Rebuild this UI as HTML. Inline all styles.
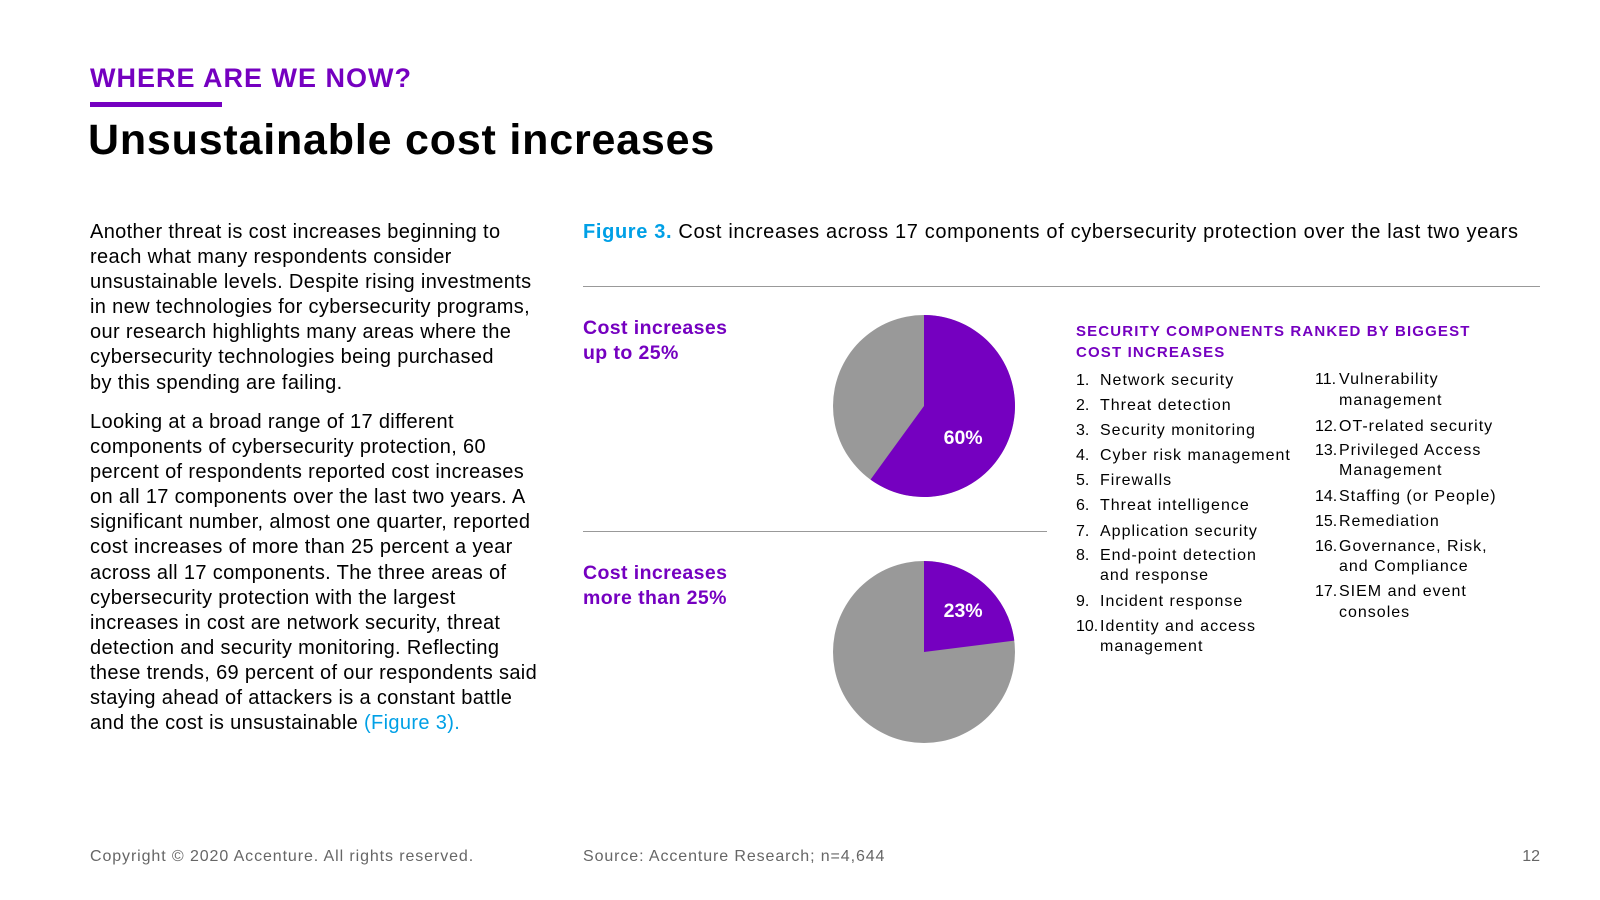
<!DOCTYPE html>
<html><head><meta charset="utf-8">
<style>
body{margin:0;width:1600px;height:900px;background:#fff;font-family:"Liberation Sans",sans-serif;position:relative;overflow:hidden;color:#000}
.abs{position:absolute}
.kicker{left:90px;top:63px;font-size:27px;font-weight:bold;color:#7500c0;letter-spacing:1px;white-space:nowrap}
.bar{left:90px;top:102px;width:132px;height:5px;background:#7500c0}
.title{left:88px;top:116px;font-size:43px;font-weight:bold;letter-spacing:0.8px;white-space:nowrap}
.body{left:90px;font-size:20px;line-height:25.1px;letter-spacing:0.35px;white-space:nowrap}
.fig{left:583px;top:221px;font-size:20px;letter-spacing:0.65px;white-space:nowrap}
.fig b{color:#00a0e6}
.hr{height:1px;background:#999}
.lab{left:583px;font-size:19.5px;font-weight:bold;color:#7500c0;line-height:25px;letter-spacing:0.4px}
.lh{left:1076px;top:322px;font-size:15px;font-weight:bold;color:#7500c0;line-height:20.5px;letter-spacing:1.15px;white-space:nowrap}
.list{font-size:16px;line-height:25.1px;letter-spacing:1px;margin:0;padding:0;list-style:none;white-space:nowrap}
.list li{display:flex;height:25.1px}
.list li span:first-child{width:24px;flex:none;letter-spacing:0}
.list li.two{line-height:20.5px;height:41px;padding:2.3px 0}
.foot{top:848px;font-size:16px;color:#666;letter-spacing:0.9px;white-space:nowrap}
</style></head><body>
<div class="abs kicker">WHERE ARE WE NOW?</div>
<div class="abs bar"></div>
<div class="abs title">Unsustainable cost increases</div>
<div class="abs body" style="top:220px">Another threat is cost increases beginning to<br>reach what many respondents consider<br>unsustainable levels. Despite rising investments<br>in new technologies for cybersecurity programs,<br>our research highlights many areas where the<br>cybersecurity technologies being purchased<br>by this spending are failing.</div>
<div class="abs body" style="top:410px">Looking at a broad range of 17 different<br>components of cybersecurity protection, 60<br>percent of respondents reported cost increases<br>on all 17 components over the last two years. A<br>significant number, almost one quarter, reported<br>cost increases of more than 25 percent a year<br>across all 17 components. The three areas of<br>cybersecurity protection with the largest<br>increases in cost are network security, threat<br>detection and security monitoring. Reflecting<br>these trends, 69 percent of our respondents said<br>staying ahead of attackers is a constant battle<br>and the cost is unsustainable <span style="color:#00a0e6">(Figure 3).</span></div>
<div class="abs fig"><b>Figure 3.</b> Cost increases across 17 components of cybersecurity protection over the last two years</div>
<div class="abs hr" style="left:583px;top:286px;width:957px"></div>
<div class="abs hr" style="left:583px;top:531px;width:464px"></div>
<div class="abs lab" style="top:316px">Cost increases<br>up to 25%</div>
<div class="abs lab" style="top:561px">Cost increases<br>more than 25%</div>
<svg class="abs" style="left:0;top:0" width="1600" height="900" id="pies"></svg>
<div class="abs lh">SECURITY COMPONENTS RANKED BY BIGGEST<br>COST INCREASES</div>
<ul class="abs list" style="left:1076px;top:368px;width:235px">
<li><span>1.</span><span>Network security</span></li>
<li><span>2.</span><span>Threat detection</span></li>
<li><span>3.</span><span>Security monitoring</span></li>
<li><span>4.</span><span>Cyber risk management</span></li>
<li><span>5.</span><span>Firewalls</span></li>
<li><span>6.</span><span>Threat intelligence</span></li>
<li><span>7.</span><span>Application security</span></li>
<li class="two"><span>8.</span><span>End-point detection<br>and response</span></li>
<li><span>9.</span><span>Incident response</span></li>
<li class="two"><span>10.</span><span>Identity and access<br>management</span></li>
</ul>
<ul class="abs list" style="left:1315px;top:368px;width:235px">
<li class="two"><span>11.</span><span>Vulnerability<br>management</span></li>
<li><span>12.</span><span>OT-related security</span></li>
<li class="two"><span>13.</span><span>Privileged Access<br>Management</span></li>
<li><span>14.</span><span>Staffing (or People)</span></li>
<li><span>15.</span><span>Remediation</span></li>
<li class="two"><span>16.</span><span>Governance, Risk,<br>and Compliance</span></li>
<li class="two"><span>17.</span><span>SIEM and event<br>consoles</span></li>
</ul>
<div class="abs foot" style="left:90px">Copyright © 2020 Accenture. All rights reserved.</div>
<div class="abs foot" style="left:583px">Source: Accenture Research; n=4,644</div>
<div class="abs foot" style="right:60px;letter-spacing:0">12</div>
<script>
const pieNames=['up-to-25','more-than-25'];
const pieValues=[60,23];
const svg=document.getElementById('pies');
const NS='http://www.w3.org/2000/svg';
const centers=[[924,406],[924,652]];
const R=91;
function pt(c,f){const a=f*2*Math.PI;return [c[0]+R*Math.sin(a),c[1]-R*Math.cos(a)];}
pieValues.forEach((v,i)=>{
  const c=centers[i];
  const bg=document.createElementNS(NS,'circle');
  bg.setAttribute('cx',c[0]);bg.setAttribute('cy',c[1]);bg.setAttribute('r',R);bg.setAttribute('fill','#999');
  
  
  svg.appendChild(bg);
  const f=v/100,e=pt(c,f);
  const p=document.createElementNS(NS,'path');
  p.setAttribute('d',`M${c[0]},${c[1]} L${c[0]},${c[1]-R} A${R},${R} 0 ${f>0.5?1:0} 1 ${e[0]},${e[1]} Z`);
  p.setAttribute('fill','#7500c0');
  
  
  svg.appendChild(p);
  const a=f*Math.PI;
  const t=document.createElementNS(NS,'text');
  t.setAttribute('x',c[0]+0.43*R);
  t.setAttribute('y',c[1]-R*(0.755*Math.cos(a)-0.106)+7);
  t.setAttribute('text-anchor','middle');t.setAttribute('fill','#fff');t.setAttribute('font-weight','bold');
  t.setAttribute('font-size','19.5');t.setAttribute('font-family','Liberation Sans, sans-serif');
  t.textContent=v+'%';
  
  
  svg.appendChild(t);
});
</script>
</body></html>
